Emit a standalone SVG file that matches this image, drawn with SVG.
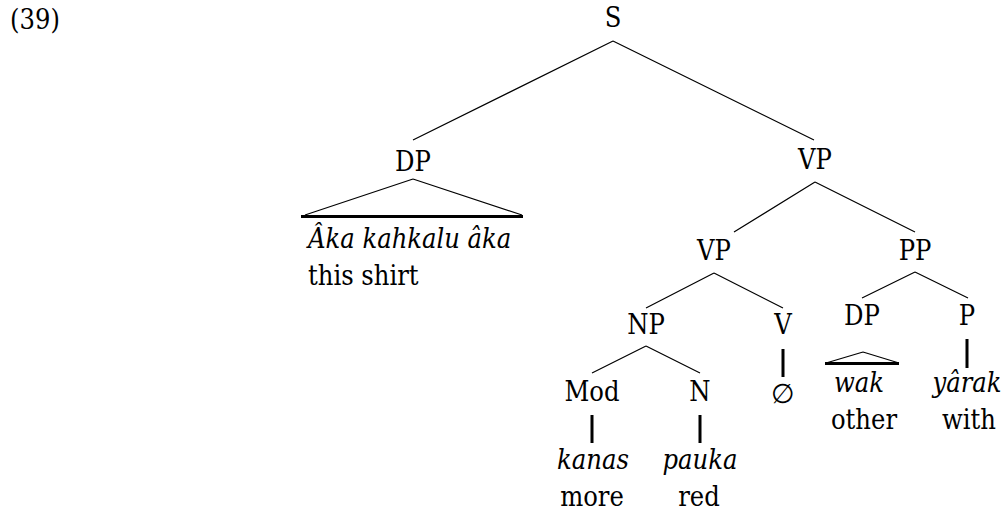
<svg xmlns="http://www.w3.org/2000/svg" width="1007" height="514" viewBox="0 0 1007 514">
<style>
text{font-family:"DejaVu Serif Condensed","DejaVu Serif",serif;font-stretch:condensed;font-size:27px;fill:#000;text-anchor:middle}
.it{font-style:italic}
.l{text-anchor:start}
.thin{stroke:#000;stroke-width:1.2;fill:none}
.thick{stroke:#000;stroke-width:3;fill:none}
</style>
<rect width="1007" height="514" fill="#fff"/>
<text class="l" x="10" y="29">(39)</text>
<g id="connectors">
<path class="thin" d="M613,41 L413,140 M613,41 L814,140"/>
<path class="thin" d="M413,179 L305,215 M413,179 L522,215"/>
<path class="thick" d="M301,216.5 H523"/>
<path class="thin" d="M815,182 L734,232 M815,182 L915,232"/>
<path class="thin" d="M714,273 L646,308 M714,273 L783,308"/>
<path class="thin" d="M915,272 L862,298 M915,272 L968,298"/>
<path class="thin" d="M646,346 L592,373 M646,346 L700,373"/>
<path class="thick" d="M592,415 V443 M700,415 V443 M783,349 V377 M967,339 V368"/>
<path class="thin" d="M863,352 L826,363 M863,352 L899,363"/>
<path class="thick" d="M825,363.5 H899"/>
</g>
<g id="S"><text x="613" y="27">S</text></g>
<g id="DP1"><text x="413" y="171">DP</text>
<text class="it l" x="308" y="248">Âka kahkalu âka</text>
<text class="l" x="308" y="285">this shirt</text></g>
<g id="VP1"><text x="815" y="169">VP</text></g>
<g id="VP2"><text x="714" y="260">VP</text></g>
<g id="PP"><text x="915" y="260">PP</text></g>
<g id="NP"><text x="646" y="334">NP</text></g>
<g id="V"><text x="783" y="334">V</text><text x="783" y="403">∅</text></g>
<g id="DP2"><text x="862" y="325">DP</text><text class="it" x="859" y="392">wak</text><text x="864" y="429">other</text></g>
<g id="P"><text x="967" y="325">P</text><text class="it" x="967" y="392">yârak</text><text x="969" y="429">with</text></g>
<g id="Mod"><text x="592" y="401">Mod</text><text class="it" x="593" y="469">kanas</text><text x="592" y="506">more</text></g>
<g id="N"><text x="700" y="401">N</text><text class="it" x="700" y="469">pauka</text><text x="699" y="506">red</text></g>
</svg>
